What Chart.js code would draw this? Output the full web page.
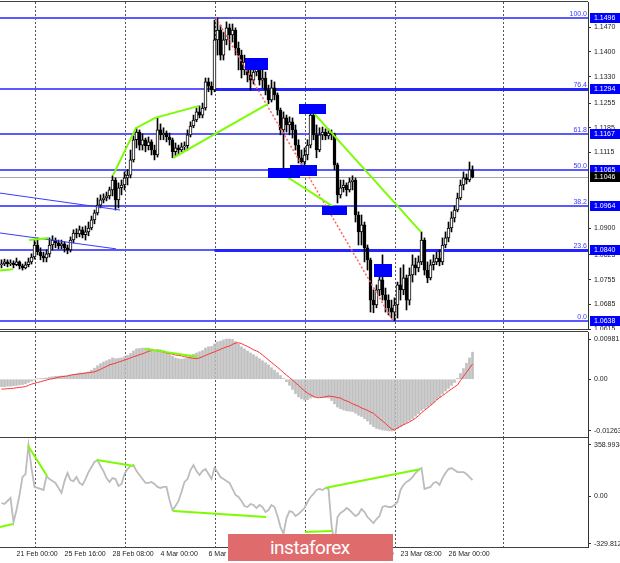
<!DOCTYPE html>
<html>
<head>
<meta charset="utf-8">
<title>EURUSD H4</title>
<script src="https://cdn.jsdelivr.net/npm/chart.js@4.4.1/dist/chart.umd.min.js"></script>
<style>
  html, body { margin: 0; padding: 0; background: #fff; }
  #wrap { position: relative; width: 620px; height: 563px; overflow: hidden; background: #fff; }
  #wrap canvas { position: absolute; left: 0; }
  #mark { position: absolute; left: 228px; top: 534px; width: 165px; height: 27px; background: #e06b6d; color: #fff; }
  #mark span { position: absolute; left: 42px; top: 4px; font: 19px/1 Roboto, 'Open Sans', sans-serif; letter-spacing: -0.5px; }
</style>
</head>
<body>
<div id="wrap">
  <canvas id="priceChart" width="620" height="330" style="top:0"></canvas>
  <canvas id="macdChart" width="620" height="108" style="top:330px"></canvas>
  <canvas id="cciChart" width="620" height="126" style="top:437px"></canvas>
  <div id="mark"><span>instaforex</span></div>
</div>
<script>
// H4 candles, bar 0 = 20 Feb 04:00
const opens = [
  1.0797, 1.0799, 1.0805, 1.0799, 1.0802, 1.0797, 1.0805, 1.0794, 1.0788, 1.0797,
  1.0805, 1.0819, 1.0853, 1.0833, 1.0822, 1.0816, 1.0828, 1.0853, 1.0867, 1.0859,
  1.0850, 1.0856, 1.0845, 1.0839, 1.0867, 1.0887, 1.0884, 1.0896, 1.0882, 1.0890,
  1.0901, 1.0924, 1.0944, 1.0966, 1.0981, 1.0986, 1.0992, 1.1009, 1.1037, 1.0981,
  1.1015, 1.1023, 1.1043, 1.1051, 1.1094, 1.1151, 1.1173, 1.1136, 1.1151, 1.1134,
  1.1145, 1.1122, 1.1108, 1.1179, 1.1165, 1.1170, 1.1159, 1.1151, 1.1117, 1.1128,
  1.1122, 1.1131, 1.1134, 1.1165, 1.1190, 1.1207, 1.1230, 1.1221, 1.1241, 1.1315,
  1.1303, 1.1292, 1.1434, 1.1462, 1.1391, 1.1434, 1.1468, 1.1448, 1.1462, 1.1411,
  1.1391, 1.1349, 1.1371, 1.1335, 1.1320, 1.1343, 1.1354, 1.1320, 1.1326, 1.1292,
  1.1264, 1.1298, 1.1278, 1.1235, 1.1179, 1.1213, 1.1193, 1.1202, 1.1179, 1.1136,
  1.1100, 1.1088, 1.1108, 1.1136, 1.1221, 1.1165, 1.1122, 1.1165, 1.1173, 1.1162,
  1.1170, 1.1165, 1.1080, 1.0995, 1.1015, 1.1023, 1.1009, 1.1032, 1.1037, 1.0938,
  1.0890, 1.0910, 1.0845, 1.0811, 1.0697, 1.0683, 1.0726, 1.0754, 1.0712, 1.0697,
  1.0675, 1.0663, 1.0683, 1.0740, 1.0726, 1.0760, 1.0697, 1.0768, 1.0797, 1.0788,
  1.0805, 1.0867, 1.0782, 1.0760, 1.0797, 1.0805, 1.0816, 1.0805, 1.0853, 1.0873,
  1.0901, 1.0930, 1.0952, 1.0986, 1.1023, 1.1043, 1.1037, 1.1066
];
const highs = [
  1.0811, 1.0813, 1.0811, 1.0811, 1.0808, 1.0816, 1.0808, 1.0799, 1.0805, 1.0816,
  1.0828, 1.0867, 1.0873, 1.0845, 1.0833, 1.0839, 1.0873, 1.0879, 1.0873, 1.0867,
  1.0867, 1.0862, 1.0853, 1.0876, 1.0896, 1.0899, 1.0907, 1.0904, 1.0907, 1.0918,
  1.0935, 1.0952, 1.0986, 1.0995, 1.0998, 1.1003, 1.1017, 1.1049, 1.1043, 1.1029,
  1.1037, 1.1060, 1.1066, 1.1122, 1.1162, 1.1185, 1.1179, 1.1168, 1.1156, 1.1159,
  1.1151, 1.1136, 1.1213, 1.1196, 1.1185, 1.1176, 1.1170, 1.1156, 1.1142, 1.1136,
  1.1142, 1.1145, 1.1179, 1.1202, 1.1221, 1.1241, 1.1247, 1.1255, 1.1326, 1.1326,
  1.1315, 1.1490, 1.1496, 1.1476, 1.1456, 1.1485, 1.1479, 1.1479, 1.1468, 1.1428,
  1.1405, 1.1391, 1.1377, 1.1354, 1.1369, 1.1377, 1.1366, 1.1349, 1.1343, 1.1306,
  1.1320, 1.1315, 1.1284, 1.1241, 1.1230, 1.1221, 1.1216, 1.1213, 1.1193, 1.1151,
  1.1122, 1.1128, 1.1151, 1.1241, 1.1230, 1.1193, 1.1185, 1.1187, 1.1182, 1.1182,
  1.1179, 1.1170, 1.1085, 1.1037, 1.1037, 1.1029, 1.1043, 1.1049, 1.1043, 1.0947,
  1.0938, 1.0918, 1.0853, 1.0816, 1.0726, 1.0740, 1.0782, 1.0825, 1.0731, 1.0712,
  1.0697, 1.0703, 1.0748, 1.0788, 1.0797, 1.0768, 1.0788, 1.0825, 1.0816, 1.0822,
  1.0890, 1.0873, 1.0805, 1.0811, 1.0825, 1.0833, 1.0839, 1.0873, 1.0890, 1.0918,
  1.0947, 1.0964, 1.1000, 1.1037, 1.1060, 1.1054, 1.1088, 1.1077
];
const lows = [
  1.0788, 1.0794, 1.0791, 1.0794, 1.0788, 1.0794, 1.0785, 1.0782, 1.0785, 1.0791,
  1.0799, 1.0813, 1.0825, 1.0811, 1.0805, 1.0805, 1.0819, 1.0839, 1.0845, 1.0842,
  1.0842, 1.0833, 1.0828, 1.0833, 1.0859, 1.0873, 1.0876, 1.0873, 1.0867, 1.0879,
  1.0896, 1.0913, 1.0938, 1.0958, 1.0972, 1.0978, 1.0983, 1.0992, 1.0952, 1.0958,
  1.0995, 1.1009, 1.1023, 1.1043, 1.1088, 1.1128, 1.1122, 1.1122, 1.1117, 1.1122,
  1.1108, 1.1094, 1.1102, 1.1151, 1.1151, 1.1145, 1.1136, 1.1100, 1.1105, 1.1108,
  1.1117, 1.1122, 1.1122, 1.1159, 1.1185, 1.1202, 1.1213, 1.1213, 1.1235, 1.1287,
  1.1278, 1.1287, 1.1391, 1.1377, 1.1377, 1.1420, 1.1405, 1.1428, 1.1391, 1.1349,
  1.1326, 1.1335, 1.1315, 1.1292, 1.1309, 1.1332, 1.1306, 1.1298, 1.1278, 1.1253,
  1.1258, 1.1264, 1.1221, 1.1165, 1.1060, 1.1173, 1.1165, 1.1156, 1.1122, 1.1085,
  1.1071, 1.1077, 1.1094, 1.1128, 1.1151, 1.1100, 1.1117, 1.1151, 1.1151, 1.1153,
  1.1151, 1.1066, 1.0972, 1.0986, 1.1003, 1.0992, 1.1003, 1.1009, 1.0918, 1.0853,
  1.0853, 1.0805, 1.0782, 1.0663, 1.0661, 1.0675, 1.0709, 1.0697, 1.0663, 1.0655,
  1.0646, 1.0638, 1.0646, 1.0697, 1.0712, 1.0669, 1.0683, 1.0748, 1.0768, 1.0777,
  1.0797, 1.0768, 1.0746, 1.0754, 1.0782, 1.0797, 1.0794, 1.0797, 1.0845, 1.0862,
  1.0890, 1.0918, 1.0947, 1.0981, 1.1009, 1.1026, 1.1032, 1.1043
];
const closes = [
  1.0799, 1.0805, 1.0799, 1.0802, 1.0797, 1.0805, 1.0794, 1.0788, 1.0797, 1.0805,
  1.0819, 1.0853, 1.0833, 1.0822, 1.0816, 1.0828, 1.0853, 1.0867, 1.0859, 1.0850,
  1.0856, 1.0845, 1.0839, 1.0867, 1.0887, 1.0884, 1.0896, 1.0882, 1.0890, 1.0901,
  1.0924, 1.0944, 1.0966, 1.0981, 1.0986, 1.0992, 1.1009, 1.1037, 1.0981, 1.1015,
  1.1023, 1.1043, 1.1051, 1.1094, 1.1151, 1.1173, 1.1136, 1.1151, 1.1134, 1.1145,
  1.1122, 1.1108, 1.1179, 1.1165, 1.1170, 1.1159, 1.1151, 1.1117, 1.1128, 1.1122,
  1.1131, 1.1134, 1.1165, 1.1190, 1.1207, 1.1230, 1.1221, 1.1241, 1.1315, 1.1303,
  1.1292, 1.1434, 1.1462, 1.1391, 1.1434, 1.1468, 1.1448, 1.1462, 1.1411, 1.1391,
  1.1349, 1.1371, 1.1335, 1.1320, 1.1343, 1.1354, 1.1320, 1.1326, 1.1292, 1.1264,
  1.1298, 1.1278, 1.1235, 1.1179, 1.1213, 1.1193, 1.1202, 1.1179, 1.1136, 1.1100,
  1.1088, 1.1108, 1.1136, 1.1221, 1.1165, 1.1122, 1.1165, 1.1173, 1.1162, 1.1170,
  1.1165, 1.1080, 1.0995, 1.1015, 1.1023, 1.1009, 1.1032, 1.1037, 1.0938, 1.0890,
  1.0910, 1.0845, 1.0811, 1.0697, 1.0683, 1.0726, 1.0754, 1.0712, 1.0697, 1.0675,
  1.0663, 1.0683, 1.0740, 1.0726, 1.0760, 1.0697, 1.0768, 1.0797, 1.0788, 1.0805,
  1.0867, 1.0782, 1.0760, 1.0797, 1.0805, 1.0816, 1.0805, 1.0853, 1.0873, 1.0901,
  1.0930, 1.0952, 1.0986, 1.1023, 1.1043, 1.1037, 1.1066, 1.1046
];

// MACD main (histogram) and signal
const macdHist = [
  -0.0018, -0.0018, -0.0017, -0.0017, -0.0016, -0.0015, -0.0014, -0.0013, -0.0011, -0.0008,
  -0.0005, -0.0002, 0.0001, 0.0002, 0.0002, 0.0003, 0.0005, 0.0006, 0.0007, 0.0007,
  0.0008, 0.0008, 0.0008, 0.0010, 0.0012, 0.0013, 0.0015, 0.0015, 0.0016, 0.0018,
  0.0022, 0.0027, 0.0033, 0.0038, 0.0042, 0.0045, 0.0048, 0.0052, 0.0050, 0.0051,
  0.0052, 0.0055, 0.0058, 0.0063, 0.0069, 0.0074, 0.0075, 0.0076, 0.0076, 0.0076,
  0.0074, 0.0071, 0.0073, 0.0072, 0.0070, 0.0066, 0.0062, 0.0056, 0.0052, 0.0050,
  0.0049, 0.0050, 0.0053, 0.0057, 0.0061, 0.0064, 0.0067, 0.0070, 0.0076, 0.0079,
  0.0080, 0.0086, 0.0091, 0.0093, 0.0096, 0.0098, 0.0098, 0.0097, 0.0092, 0.0086,
  0.0079, 0.0074, 0.0069, 0.0064, 0.0060, 0.0055, 0.0050, 0.0045, 0.0040, 0.0035,
  0.0028, 0.0022, 0.0016, 0.0009, 0.0002, -0.0006, -0.0015, -0.0025, -0.0035, -0.0043,
  -0.0048, -0.0051, -0.0050, -0.0046, -0.0044, -0.0043, -0.0043, -0.0044, -0.0045, -0.0046,
  -0.0052, -0.0060, -0.0068, -0.0072, -0.0075, -0.0077, -0.0078, -0.0079, -0.0083, -0.0088,
  -0.0091, -0.0096, -0.0102, -0.0110, -0.0116, -0.0120, -0.0122, -0.0124, -0.0125, -0.0126,
  -0.01263, -0.0125, -0.0121, -0.0116, -0.0111, -0.0106, -0.0101, -0.0096, -0.0090, -0.0084,
  -0.0076, -0.0072, -0.0068, -0.0063, -0.0057, -0.0050, -0.0044, -0.0036, -0.0029, -0.0022,
  -0.0015, -0.0008, 0.0002, 0.0014, 0.0026, 0.0039, 0.0052, 0.0066
];
const macdSignal = [
  -0.0024, -0.0024, -0.0023, -0.0023, -0.0022, -0.0021, -0.0020, -0.0019, -0.0018, -0.0015,
  -0.0012, -0.0010, -0.0008, -0.0006, -0.0004, -0.0002, 0.0000, 0.0001, 0.0003, 0.0005,
  0.0006, 0.0007, 0.0008, 0.0010, 0.0011, 0.0012, 0.0013, 0.0014, 0.0015, 0.0016,
  0.0017, 0.0018, 0.0021, 0.0024, 0.0028, 0.0031, 0.0035, 0.0037, 0.0039, 0.0042,
  0.0044, 0.0047, 0.0049, 0.0052, 0.0055, 0.0057, 0.0060, 0.0062, 0.0065, 0.0068,
  0.0070, 0.0071, 0.0069, 0.0068, 0.0066, 0.0064, 0.0063, 0.0061, 0.0059, 0.0058,
  0.0057, 0.0055, 0.0054, 0.0052, 0.0051, 0.0050, 0.0052, 0.0055, 0.0058, 0.0061,
  0.0064, 0.0067, 0.0070, 0.0073, 0.0076, 0.0079, 0.0081, 0.0085, 0.0088, 0.0089,
  0.0087, 0.0083, 0.0080, 0.0076, 0.0072, 0.0069, 0.0065, 0.0059, 0.0053, 0.0047,
  0.0041, 0.0035, 0.0029, 0.0023, 0.0016, 0.0010, 0.0004, -0.0002, -0.0009, -0.0015,
  -0.0022, -0.0028, -0.0034, -0.0038, -0.0042, -0.0045, -0.0045, -0.0044, -0.0043, -0.0041,
  -0.0042, -0.0043, -0.0045, -0.0046, -0.0050, -0.0053, -0.0056, -0.0060, -0.0063, -0.0066,
  -0.0070, -0.0073, -0.0076, -0.0080, -0.0083, -0.0090, -0.0096, -0.0102, -0.0108, -0.0115,
  -0.0121, -0.0124, -0.0119, -0.0115, -0.0111, -0.0108, -0.0104, -0.0100, -0.0095, -0.0089,
  -0.0082, -0.0076, -0.0070, -0.0064, -0.0058, -0.0051, -0.0045, -0.0040, -0.0035, -0.0029,
  -0.0024, -0.0019, -0.0014, -0.0003, 0.0007, 0.0017, 0.0027, 0.0037
];

// CCI
const cciValues = [
  -46, -53, -32, -11, -179, -95, 10, 135, 156, 359,
  198, 66, 59, 52, 45, 142, 121, 107, 94, 59,
  24, 107, 163, 114, 107, 135, 94, 80, 121, 170,
  205, 240, 254, 212, 177, 128, 101, 128, 121, 73,
  87, 156, 191, 212, 219, 177, 149, 121, 94, 94,
  101, 87, 66, 59, 66, 66, -25, -95, -67, -32,
  31, 101, 121, 184, 219, 177, 149, 177, 191, 156,
  121, 198, 170, 135, 121, 107, 94, 52, 10, -4,
  -32, -67, -74, -53, -60, -81, -60, -74, -109, -95,
  -60, -74, -137, -214, -260, -151, -102, -109, -137, -123,
  -102, -81, -39, -4, 17, 45, 52, 45, 59, 52,
  -200, -330, -144, -116, -102, -81, -95, -116, -137, -123,
  -88, -109, -144, -165, -186, -158, -137, -74, -67, -74,
  -74, -60, -39, 45, 80, 101, 114, 135, 163, 184,
  198, 52, 59, 66, 94, 101, 80, 128, 163, 191,
  198, 184, 170, 170, 170, 156, 135, 114
];

// axes
const N_SLOTS = 196;
const dateTickBars = [5, 21, 37, 53, 69, 85, 101, 117, 133, 149];
const dateTickText = ['21 Feb 00:00', '25 Feb 16:00', '28 Feb 08:00', '4 Mar 00:00', '6 Mar 16:00',
  '11 Mar 08:00', '16 Mar 00:00', '18 Mar 16:00', '23 Mar 08:00', '26 Mar 00:00'];
const weekSeparators = [11, 41, 71, 101, 131, 167];
const priceTicks = [1.1470, 1.1400, 1.1330, 1.1255, 1.1185, 1.1115, 1.0900, 1.0825, 1.0755, 1.0685, 1.0615];
const macdTicks = [0.00981, 0, -0.01263];
const cciTicks = [358.9934, 0, -329.812];

// fibonacci grid and levels
const fibLevels = [1.1496, 1.1294, 1.1167, 1.1065, 1.0964, 1.0840, 1.0638];
const fibNames = ['100.0', '76.4', '61.8', '50.0', '38.2', '23.6', '0.0'];
const supportLevels = [1.1294, 1.0840];
const supportStartBar = 71;
const lastPrice = 1.1046;

// drawn objects: [bar, value] points
const greenPriceLines = [
  [[-0.5, 1.0781], [3.8, 1.0784]],
  [[9.2, 1.0867], [15.8, 1.0873]],
  [[37.2, 1.1051], [44.8, 1.1184], [51.2, 1.1213], [65.9, 1.1247]],
  [[57.2, 1.1100], [88.8, 1.1253]],
  [[93.2, 1.1057], [111.2, 1.0958]],
  [[103.2, 1.1235], [139.8, 1.0890]]
];
const bluePriceLines = [
  [[-0.5, 1.1000], [39.5, 1.0952]],
  [[-0.5, 1.0887], [38.2, 1.0842]]
];
const redDotted = [[71.5, 1.1496], [130.5, 1.0638]];
// [bar from, bar to, price top, price bottom]
const zoneRects = [
  [81.2, 88.8, 1.1383, 1.1349],
  [99.2, 108.2, 1.1253, 1.1224],
  [88.8, 99.5, 1.1071, 1.1043],
  [96.2, 105.2, 1.1080, 1.1049],
  [106.8, 115.2, 1.0964, 1.0938],
  [124.2, 130.2, 1.0799, 1.0763]
];
const greenMacdLines = [
  [[47.8, 0.0074], [65.2, 0.0055]]
];
const greenCciLines = [
  [[-0.5, -214], [3.8, -193]],
  [[8.8, 355], [15.2, 142]],
  [[31.8, 254], [44.2, 212]],
  [[57.2, -102], [88.2, -144]],
  [[101.2, -249], [110.2, -242]],
  [[108.2, 61], [139.5, 189]]
];

const FONT = "'Liberation Sans', Arial, sans-serif";
const AXIS_FONT = { family: FONT, size: 7 };
const LIME = '#7cfc00';

function trend(points, color, width, dash) {
  return {
    type: 'line',
    data: points.map(([x, y]) => ({ x, y })),
    borderColor: color,
    borderWidth: width,
    borderDash: dash || [],
    pointRadius: 0,
    fill: false,
    tension: 0,
    order: 0
  };
}

function hline(ctx, x0, y, x1) {
  ctx.beginPath();
  ctx.moveTo(x0, y);
  ctx.lineTo(x1, y);
  ctx.stroke();
}

function xAxis(showLabels) {
  return {
    type: 'linear',
    min: -0.5,
    max: N_SLOTS - 0.5,
    offset: false,
    display: showLabels,
    grid: { display: false, drawTicks: false, offset: false },
    border: { display: false },
    afterBuildTicks: s => { s.ticks = dateTickBars.map(v => ({ value: v })); },
    afterFit: s => {
      if (!showLabels) return;
      s.height = 16;
      s.paddingLeft = 0;
      s.paddingRight = 0;
    },
    ticks: {
      autoSkip: false,
      maxRotation: 0,
      minRotation: 0,
      align: 'start',
      padding: 3,
      font: AXIS_FONT,
      color: '#222',
      callback: v => {
        const k = dateTickBars.indexOf(v);
        return k >= 0 ? dateTickText[k] : '';
      }
    }
  };
}

function yAxis(min, max, tickValues, fmt) {
  return {
    position: 'right',
    min: min,
    max: max,
    beginAtZero: false,
    afterFit: s => {
      s.width = 32;
      s.paddingTop = 0;
      s.paddingBottom = 0;
    },
    afterBuildTicks: s => { s.ticks = tickValues.map(v => ({ value: v })); },
    grid: { drawOnChartArea: false, drawTicks: true, tickLength: 3, color: '#333' },
    border: { display: true, color: '#333' },
    ticks: { autoSkip: false, padding: 3, font: AXIS_FONT, color: '#222', callback: fmt }
  };
}

// week separators and panel frame
const panelFrame = {
  id: 'panelFrame',
  beforeDatasetsDraw(chart) {
    const { ctx, chartArea: a, scales } = chart;
    ctx.save();
    ctx.strokeStyle = '#555';
    ctx.lineWidth = 1;
    ctx.setLineDash([2, 2]);
    weekSeparators.forEach(bar => {
      const px = Math.round(scales.x.getPixelForValue(bar)) + 0.5;
      ctx.beginPath();
      ctx.moveTo(px, a.top);
      ctx.lineTo(px, a.bottom);
      ctx.stroke();
    });
    ctx.restore();
  },
  afterDraw(chart) {
    const { ctx, chartArea: a } = chart;
    ctx.save();
    ctx.strokeStyle = '#404040';
    ctx.lineWidth = 1;
    hline(ctx, 0, a.top - 0.5, a.right);
    hline(ctx, 0, a.bottom + 0.5, a.right);
    ctx.restore();
  }
};

// fibo lines, zones and price labels of the main window
const priceMarks = {
  id: 'priceMarks',
  beforeDatasetsDraw(chart) {
    const { ctx, chartArea: a, scales: { x, y } } = chart;
    ctx.save();
    ctx.lineWidth = 1;
    ctx.strokeStyle = '#a8a8a8';
    hline(ctx, a.left, Math.round(y.getPixelForValue(lastPrice)) + 0.5, a.right);
    ctx.lineWidth = 2;
    ctx.strokeStyle = '#5a5aff';
    fibLevels.forEach(v => hline(ctx, a.left, Math.round(y.getPixelForValue(v)), a.right));
    ctx.lineWidth = 3;
    ctx.strokeStyle = '#2424ff';
    supportLevels.forEach(v => {
      hline(ctx, x.getPixelForValue(supportStartBar), Math.round(y.getPixelForValue(v)) + 0.5, a.right);
    });
    ctx.restore();
  },
  afterDatasetsDraw(chart) {
    const { ctx, scales: { x, y } } = chart;
    ctx.save();
    ctx.fillStyle = '#0000ff';
    zoneRects.forEach(([b0, b1, p0, p1]) => {
      const x0 = Math.round(x.getPixelForValue(b0));
      const x1 = Math.round(x.getPixelForValue(b1));
      const y0 = Math.round(y.getPixelForValue(p0));
      const y1 = Math.round(y.getPixelForValue(p1));
      ctx.fillRect(x0, y0, x1 - x0, y1 - y0);
    });
    ctx.restore();
  },
  afterDraw(chart) {
    const { ctx, chartArea: a, scales: { y } } = chart;
    ctx.save();
    ctx.font = '7px ' + FONT;
    const box = (v, bg) => {
      const p = Math.round(y.getPixelForValue(v));
      ctx.fillStyle = bg;
      ctx.fillRect(a.right + 2, p - 5, chart.width - a.right - 2, 10);
      ctx.fillStyle = '#fff';
      ctx.textAlign = 'left';
      ctx.textBaseline = 'middle';
      ctx.fillText(v.toFixed(4), a.right + 6, p + 0.5);
    };
    fibLevels.forEach((v, i) => {
      const p = Math.round(y.getPixelForValue(v));
      ctx.fillStyle = '#3a3aff';
      ctx.textAlign = 'right';
      ctx.textBaseline = 'alphabetic';
      ctx.fillText(fibNames[i], a.right - 1, p - 2);
      box(v, '#0000ff');
    });
    box(lastPrice, '#000');
    ctx.restore();
  }
};

const baseOptions = (padTop, padBottom) => ({
  responsive: false,
  animation: false,
  events: [],
  layout: { padding: { top: padTop, bottom: padBottom, left: 0, right: 0 } },
  plugins: { legend: { display: false }, tooltip: { enabled: false } }
});

// price window
new Chart(document.getElementById('priceChart'), {
  type: 'bar',
  data: {
    datasets: [
      ...greenPriceLines.map(l => trend(l, LIME, 2)),
      ...bluePriceLines.map(l => trend(l, '#3a3aff', 1)),
      trend(redDotted, '#ff6262', 1.5, [2, 2]),
      {
        type: 'bar',
        data: opens.map((o, i) => ({ x: i, y: [o, closes[i]] })),
        backgroundColor: closes.map((c, i) => (c < opens[i] ? '#000' : '#fff')),
        borderColor: '#000',
        borderWidth: 1,
        borderSkipped: false,
        barThickness: 3,
        minBarLength: 1,
        grouped: false,
        order: 2
      },
      {
        type: 'bar',
        data: lows.map((l, i) => ({ x: i, y: [l, highs[i]] })),
        backgroundColor: '#000',
        barThickness: 1,
        grouped: false,
        order: 3
      }
    ]
  },
  options: {
    ...baseOptions(2, 1),
    scales: {
      x: xAxis(false),
      y: yAxis(1.0615, 1.15413, priceTicks, v => v.toFixed(4))
    }
  },
  plugins: [panelFrame, priceMarks]
});

// MACD window
new Chart(document.getElementById('macdChart'), {
  type: 'bar',
  data: {
    datasets: [
      ...greenMacdLines.map(l => trend(l, LIME, 2)),
      {
        type: 'line',
        data: macdSignal.map((v, i) => ({ x: i, y: v })),
        borderColor: '#ff3030',
        borderWidth: 1,
        pointRadius: 0,
        tension: 0,
        order: 1
      },
      {
        type: 'bar',
        data: macdHist.map((v, i) => ({ x: i, y: v })),
        backgroundColor: '#c0c0c0',
        barThickness: 2,
        grouped: false,
        order: 3
      }
    ]
  },
  options: {
    ...baseOptions(2, 1),
    scales: {
      x: xAxis(false),
      y: yAxis(-0.0141, 0.01152, macdTicks, v => (v === 0 ? '0.00' : String(v)))
    }
  },
  plugins: [panelFrame]
});

// CCI window
new Chart(document.getElementById('cciChart'), {
  type: 'bar',
  data: {
    datasets: [
      ...greenCciLines.map(l => trend(l, LIME, 2)),
      {
        type: 'line',
        data: cciValues.map((v, i) => ({ x: i, y: v })),
        borderColor: '#bcbcbc',
        borderWidth: 1.8,
        pointRadius: 0,
        tension: 0,
        order: 1
      }
    ]
  },
  options: {
    ...baseOptions(1, 0),
    scales: {
      x: xAxis(true),
      y: yAxis(-353, 407.5, cciTicks, v => (v === 0 ? '0.00' : String(v)))
    }
  },
  plugins: [panelFrame]
});
</script>
</body>
</html>
